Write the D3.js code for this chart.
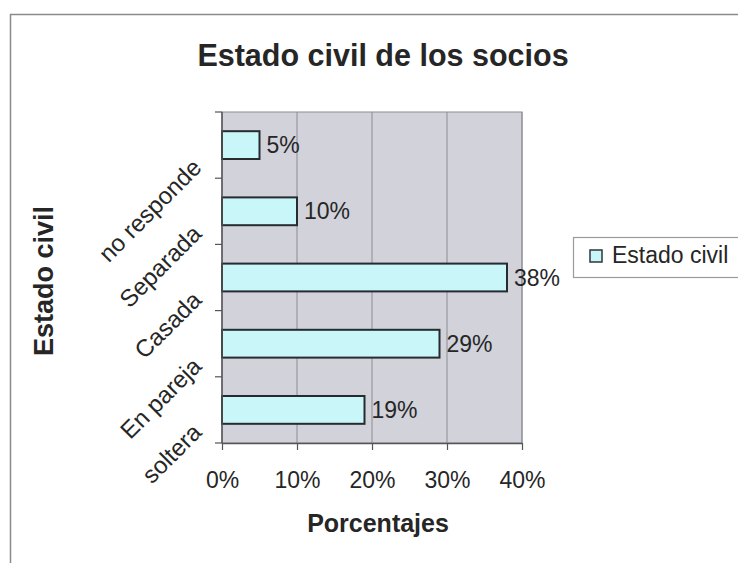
<!DOCTYPE html>
<html>
<head>
<meta charset="utf-8">
<script src="https://cdn.jsdelivr.net/npm/d3@7/dist/d3.min.js"></script>
<style>
  html, body { margin: 0; padding: 0; background: #ffffff; }
  svg { display: block; }
  text { font-family: "Liberation Sans", Arial, Helvetica, sans-serif; fill: #262626; }
</style>
</head>
<body>
<svg id="chart" width="738" height="563"></svg>
<script>
// Marital status of members, in percent (top to bottom as drawn)
const categories = ["no responde", "Separada", "Casada", "En pareja", "soltera"];
const estadoCivil = [5, 10, 38, 29, 19];
const xTicks = [0, 10, 20, 30, 40];
const seriesName = "Estado civil";
const chartTitle = "Estado civil de los socios";
const xTitle = "Porcentajes";
const yTitle = "Estado civil";

const svg = d3.select("#chart");
const W = 738, H = 563;
const plot = { left: 222, right: 522, top: 112, bottom: 443 };

// Outer chart frame (runs off the right and bottom edges)
svg.append("path")
  .attr("d", `M10.5,${H + 2} V14.5 H${W + 2}`)
  .attr("fill", "none").attr("stroke", "#8a8a8a").attr("stroke-width", 1.5);

const x = d3.scaleLinear().domain([0, 40]).range([plot.left, plot.right]);
const y = d3.scaleBand().domain(categories)
  .range([plot.top, plot.bottom])
  .paddingInner(0.58).paddingOuter(0.29);

// Plot area background
svg.append("rect")
  .attr("x", plot.left).attr("y", plot.top)
  .attr("width", plot.right - plot.left).attr("height", plot.bottom - plot.top)
  .attr("fill", "#d1d2da").attr("stroke", "#8c8c94").attr("stroke-width", 1);

// Vertical gridlines
svg.append("g").selectAll("line")
  .data(xTicks.slice(1))
  .join("line")
  .attr("x1", d => x(d)).attr("x2", d => x(d))
  .attr("y1", plot.top).attr("y2", plot.bottom)
  .attr("stroke", "#8c8c94").attr("stroke-width", 1);

// Bars
svg.append("g").selectAll("rect")
  .data(categories.map((c, i) => ({ c, v: estadoCivil[i] })))
  .join("rect")
  .attr("x", x(0))
  .attr("y", d => y(d.c))
  .attr("width", d => x(d.v) - x(0))
  .attr("height", y.bandwidth())
  .attr("fill", "#c9f6f8")
  .attr("stroke", "#262b2f").attr("stroke-width", 2);

// Value labels
svg.append("g").selectAll("text")
  .data(categories.map((c, i) => ({ c, v: estadoCivil[i] })))
  .join("text")
  .attr("x", d => x(d.v) + 7)
  .attr("y", d => y(d.c) + y.bandwidth() / 2 + 8)
  .attr("font-size", 23)
  .text(d => d.v + "%");

// X axis
const xAxis = svg.append("g")
  .attr("transform", `translate(0,${plot.bottom})`)
  .call(d3.axisBottom(x).tickValues(xTicks).tickSize(7).tickSizeOuter(0).tickFormat(d => d + "%"));
xAxis.select(".domain").attr("stroke", "#555").attr("stroke-width", 1.5);
xAxis.selectAll(".tick line").attr("stroke", "#555").attr("stroke-width", 1.2);
xAxis.selectAll(".tick text")
  .attr("font-size", 23).attr("dy", 0).attr("y", 45)
  .attr("font-family", "Liberation Sans, Arial, sans-serif").attr("fill", "#262626");

// Y axis line and tick marks at category boundaries
svg.append("line")
  .attr("x1", plot.left).attr("x2", plot.left)
  .attr("y1", plot.top).attr("y2", plot.bottom)
  .attr("stroke", "#555").attr("stroke-width", 1.5);
const step = y.step();
svg.append("g").selectAll("line")
  .data(d3.range(categories.length + 1))
  .join("line")
  .attr("x1", plot.left - 7).attr("x2", plot.left)
  .attr("y1", i => plot.top + i * step).attr("y2", i => plot.top + i * step)
  .attr("stroke", "#555").attr("stroke-width", 1.2);

// Rotated category labels
svg.append("g").selectAll("text")
  .data(categories)
  .join("text")
  .attr("text-anchor", "end")
  .attr("font-size", 24)
  .attr("transform", d => {
    const cy = y(d) + y.bandwidth() / 2 + 24;
    return `translate(203,${cy}) rotate(-45)`;
  })
  .text(d => d);

// Titles
svg.append("text")
  .attr("x", 383).attr("y", 66)
  .attr("text-anchor", "middle")
  .attr("font-size", 30.5).attr("font-weight", "bold")
  .text(chartTitle);

svg.append("text")
  .attr("x", 378).attr("y", 532)
  .attr("text-anchor", "middle")
  .attr("font-size", 25).attr("font-weight", "bold")
  .text(xTitle);

svg.append("text")
  .attr("transform", "translate(53,281) rotate(-90)")
  .attr("text-anchor", "middle")
  .attr("font-size", 27).attr("font-weight", "bold")
  .text(yTitle);

// Legend (box runs past the right edge)
const legend = svg.append("g");
legend.append("rect")
  .attr("x", 573.5).attr("y", 237.5)
  .attr("width", 180).attr("height", 40)
  .attr("fill", "#ffffff").attr("stroke", "#9a9a9a").attr("stroke-width", 1.2);
legend.append("rect")
  .attr("x", 590).attr("y", 250)
  .attr("width", 12).attr("height", 12)
  .attr("fill", "#c9f6f8").attr("stroke", "#2e3438").attr("stroke-width", 1.5);
legend.append("text")
  .attr("x", 612).attr("y", 263)
  .attr("font-size", 23)
  .text(seriesName);
</script>
</body>
</html>
